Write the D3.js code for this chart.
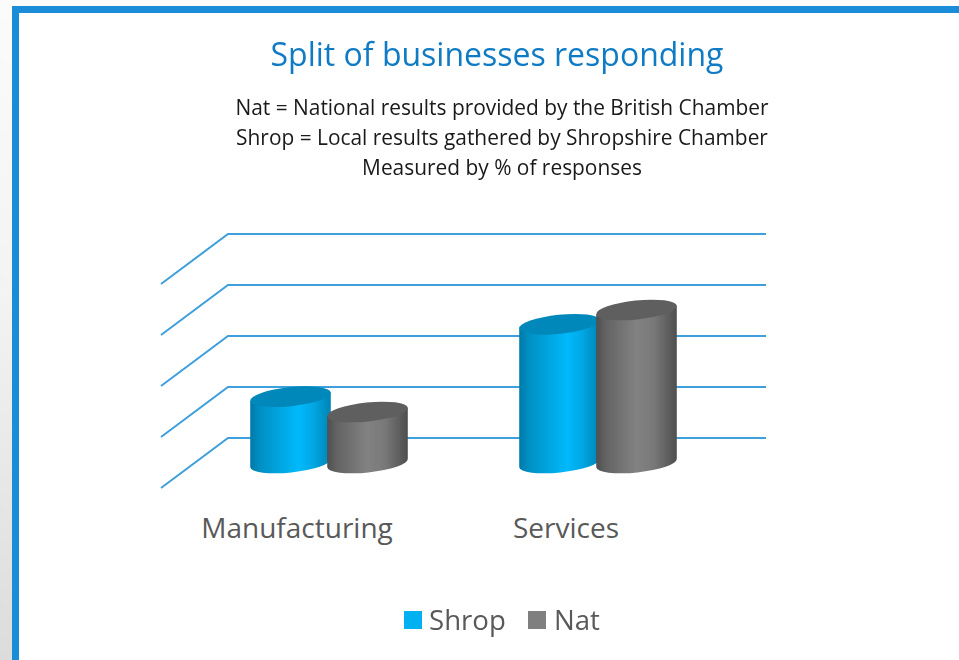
<!DOCTYPE html>
<html><head><meta charset="utf-8">
<script src="https://cdn.jsdelivr.net/npm/d3@7"></script>
<style>html,body{margin:0;padding:0;overflow:hidden;background:#fff}svg{display:block}text{font-family:"Open Sans","Noto Sans",sans-serif}</style>
</head><body><svg id="c" width="959" height="660"></svg>
<script>
const categories = ["Manufacturing", "Services"];
const seriesNames = ["Shrop", "Nat"];
const shropValues = [13, 27.2];
const natValues = [10, 30];
const gridValues = [0, 10, 20, 30, 40];
const subtitleLines = [
  "Nat = National results provided by the British Chamber",
  "Shrop = Local results gathered by Shropshire Chamber",
  "Measured by % of responses"
];
const titleText = "Split of businesses responding";

const svg = d3.select("#c");
const defs = svg.append("defs");

const bg = defs.append("linearGradient").attr("id","bg").attr("x1",0).attr("y1",0).attr("x2",0).attr("y2",1);
bg.append("stop").attr("offset","0%").attr("stop-color","#fbfbfb");
bg.append("stop").attr("offset","45%").attr("stop-color","#f3f3f3");
bg.append("stop").attr("offset","100%").attr("stop-color","#dcdcdc");
svg.append("rect").attr("width",959).attr("height",660).attr("fill","url(#bg)");
svg.append("rect").attr("x",15.5).attr("y",9.5).attr("width",1000).attr("height",800)
  .attr("fill","#fff").attr("stroke","#1a8cd8").attr("stroke-width",7);

const grads = {
  Shrop: {id:"gShrop", stops:[["0%","#0078a8"],["12%","#0090c4"],["60%","#00b9fb"],["78%","#00a8e4"],["100%","#0083b4"]], top:"#0088bb"},
  Nat: {id:"gNat", stops:[["0%","#4f4f4f"],["12%","#636363"],["50%","#828282"],["72%","#787878"],["100%","#4e4e4e"]], top:"#5f5f5f"}
};
seriesNames.forEach(n=>{
  const g = defs.append("linearGradient").attr("id",grads[n].id);
  grads[n].stops.forEach(s=>g.append("stop").attr("offset",s[0]).attr("stop-color",s[1]));
});
const blur = defs.append("filter").attr("id","soft").attr("x","-5%").attr("y","-5%").attr("width","110%").attr("height","110%");
blur.append("feGaussianBlur").attr("stdDeviation",0.5);

// Scales
const y = d3.scaleLinear().domain([0,40]).range([438,234]);
const x = d3.scaleBand().domain(categories).range([228,766]);
const depth = d3.scaleLinear().domain([0,1]).range([0,1]);
const depthX = -67, depthY = 50;   // front-to-back oblique offset
const sub = d3.scalePoint().domain(seriesNames).range([-38.5,38.5]);

// Gridlines
const grid = svg.append("g").attr("fill","none").attr("stroke","#3f9fdc").attr("stroke-width",2);
gridValues.forEach(v=>{
  const yy = y(v);
  grid.append("path").attr("d", d3.line()([[228+depthX,yy+depthY],[228,yy],[766,yy]]));
});

// Cylinders
const rx = 40.5, ry = 9.5, tilt = -6;
const c = Math.cos(tilt*Math.PI/180), s = Math.sin(tilt*Math.PI/180);
const bars = svg.append("g").attr("filter","url(#soft)");
seriesNames.forEach((name,si)=>{
  const vals = si===0 ? shropValues : natValues;
  vals.forEach((v,i)=>{
    const cx = x(categories[i]) + x.bandwidth()/2 + depthX*depth(.5) + sub(name);
    const yBase = y(0) + depthY*depth(.5);
    const yTop = yBase - (y(0)-y(v));
    const lx = cx - rx*c, rxx = cx + rx*c, dy = rx*s;
    const d = `M${lx},${yTop-dy} L${lx},${yBase-dy} A${rx},${ry} ${tilt} 0 0 ${rxx},${yBase+dy} L${rxx},${yTop+dy} Z`;
    bars.append("path").attr("d",d).attr("fill",`url(#${grads[name].id})`);
    bars.append("ellipse").attr("cx",cx).attr("cy",yTop).attr("rx",rx).attr("ry",ry)
      .attr("transform",`rotate(${tilt} ${cx} ${yTop})`).attr("fill",grads[name].top);
  });
});

// Category axis
const axisG = svg.append("g").attr("transform",`translate(${depthX+1.5},518)`)
  .call(d3.axisBottom(x).tickSize(0).tickPadding(0));
axisG.select(".domain").remove();
axisG.selectAll("text").attr("fill","#595959").style("font-size","28px").style("font-family",'"Open Sans","Noto Sans",sans-serif').attr("dy","0.71em").attr("y",0);

// Title, subtitle
svg.append("text").attr("x",497).attr("y",66).attr("text-anchor","middle").attr("fill","#0f7bc4")
  .style("font-size","32px").text(titleText);
svg.selectAll(".sub").data(subtitleLines).join("text").attr("class","sub")
  .attr("x",502).attr("y",(d,i)=>115+i*30).attr("text-anchor","middle").attr("fill","#1a1a1a")
  .style("font-size","20.9px").text(d=>d);

// Legend
const legendX = [404,528], legendColors = ["#00b0f0","#7f7f7f"], legendGap = [25,26];
seriesNames.forEach((n,i)=>{
  svg.append("rect").attr("x",legendX[i]).attr("y",611).attr("width",18).attr("height",18).attr("fill",legendColors[i]);
  svg.append("text").attr("x",legendX[i]+legendGap[i]).attr("y",629.5).attr("fill","#595959").style("font-size","27.6px").text(n);
});
</script></body></html>
